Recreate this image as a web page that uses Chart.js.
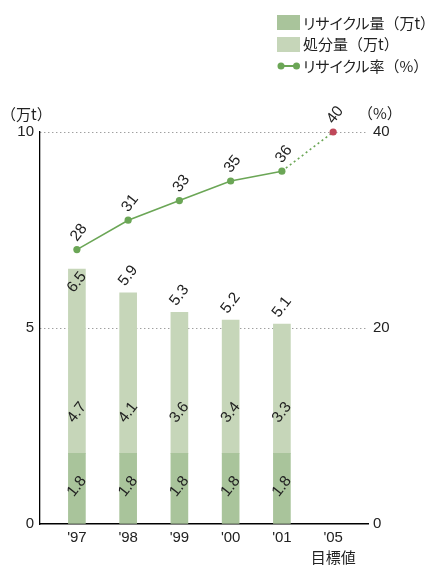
<!DOCTYPE html>
<html>
<head>
<meta charset="utf-8">
<script src="https://cdn.jsdelivr.net/npm/chart.js@4/dist/chart.umd.min.js"></script>
<style>
  html, body { margin: 0; padding: 0; background: #fff; }
  #wrap { position: relative; width: 430px; height: 565px; overflow: hidden; }
  canvas { position: absolute; left: 0; top: 0; }
  .jp { font-family: "Noto Sans CJK JP", "Liberation Sans", sans-serif; font-feature-settings: "palt"; color: #222; font-size: 15px; position: absolute; white-space: nowrap; line-height: 1; }
  .jp .np { font-feature-settings: normal; }
  .row { position: absolute; left: 277px; height: 22px; width: 160px; }
  .sw { position: absolute; left: 0; width: 23px; height: 15px; top: 3.5px; }
  .row .jp { left: 26px; top: 3px; }
  .lineicon { position: absolute; left: 0; top: 0; width: 26px; height: 22px; }
</style>
</head>
<body>
<div id="wrap">
  <canvas id="c" width="430" height="565"></canvas>
  <div class="row" style="top:11.5px"><div class="sw" style="background:#a9c49b"></div><span class="jp">リサイクル量<span class="np">（万t）</span></span></div>
  <div class="row" style="top:33px"><div class="sw" style="background:#c6d6b9"></div><span class="jp">処分量<span class="np">（万t）</span></span></div>
  <div class="row" style="top:55px">
    <svg class="lineicon" width="26" height="22"><line x1="3" y1="11" x2="20" y2="11" stroke="#6ba656" stroke-width="2"/><circle cx="4" cy="11" r="3.5" fill="#6ba656"/><circle cx="19.5" cy="11" r="3.5" fill="#6ba656"/></svg>
    <span class="jp">リサイクル率<span class="np">（%）</span></span>
  </div>
  <span class="jp" style="left:1px; top:106px;"><span class="np">（万t）</span></span>
  <span class="jp" style="left:358px; top:105px;"><span class="np">（%）</span></span>
</div>
<script>
// ---- data ----
const categories = ["'97", "'98", "'99", "'00", "'01", "'05"];
const targetNote = "目標値";
const recycleAmount = [1.8, 1.8, 1.8, 1.8, 1.8];
const disposalAmount = [4.7, 4.1, 3.6, 3.4, 3.3];
const totalAmount = [6.5, 5.9, 5.3, 5.2, 5.1];
const recycleRate = [28, 31, 33, 35, 36, 40];
const leftTicks = [0, 5, 10];
const rightTicks = [0, 20, 40];

const FONT_NUM = '"Liberation Sans", Arial, sans-serif';
const TXT = '#222';
const GREEN_LINE = '#6ba656';
const RED_PT = '#c0485a';

const toXY = arr => arr.map((v, i) => ({ x: i, y: v }));

const labelPlugin = {
  id: 'labels',
  afterDatasetsDraw(chart) {
    const ctx = chart.ctx;
    const ang = -52 * Math.PI / 180;
    const rec = chart.getDatasetMeta(1);
    const dis = chart.getDatasetMeta(2);
    const line = chart.getDatasetMeta(0);
    const draw = (txt, x, y) => {
      ctx.save();
      ctx.translate(x, y);
      ctx.rotate(ang);
      ctx.font = '15.5px ' + FONT_NUM;
      ctx.fillStyle = TXT;
      ctx.textAlign = 'center';
      ctx.textBaseline = 'middle';
      ctx.fillText(txt, 0, 0);
      ctx.restore();
    };
    rec.data.forEach((el, i) => {
      draw(recycleAmount[i].toFixed(1), el.x, (el.y + el.base) / 2 - 2);
    });
    dis.data.forEach((el, i) => {
      draw(disposalAmount[i].toFixed(1), el.x, el.base - 41);
      let ty = el.y - 17;
      const pt = line.data[i];
      if (pt && Math.abs(ty - pt.y) < 22) ty = el.y + 13;
      draw(totalAmount[i].toFixed(1), el.x, ty);
    });
    line.data.forEach((el, i) => {
      draw(String(recycleRate[i]), el.x + 2, el.y - 17);
    });
  }
};

new Chart(document.getElementById('c'), {
  type: 'bar',
  data: {
    datasets: [
      {
        type: 'line',
        label: 'リサイクル率（%）',
        data: toXY(recycleRate),
        yAxisID: 'y1',
        order: 0,
        clip: false,
        borderColor: GREEN_LINE,
        borderWidth: 1.6,
        pointRadius: 3.6,
        pointBorderWidth: 0,
        pointBackgroundColor: recycleRate.map((v, i) => i === recycleRate.length - 1 ? RED_PT : GREEN_LINE),
        tension: 0,
        segment: {
          borderDash: c => c.p1DataIndex === recycleRate.length - 1 ? [2, 3] : undefined
        }
      },
      {
        label: 'リサイクル量（万t）',
        data: toXY(recycleAmount),
        yAxisID: 'y',
        order: 1,
        backgroundColor: '#a9c49b',
        barThickness: 17,
        stack: 's'
      },
      {
        label: '処分量（万t）',
        data: toXY(disposalAmount),
        yAxisID: 'y',
        order: 1,
        backgroundColor: '#c6d6b9',
        barThickness: 17,
        stack: 's'
      }
    ]
  },
  options: {
    responsive: false,
    animation: false,
    devicePixelRatio: 1,
    layout: { padding: { top: 132, left: 0, right: 0, bottom: 0 } },
    plugins: { legend: { display: false }, tooltip: { enabled: false } },
    scales: {
      x: {
        type: 'linear',
        offset: false,
        min: -0.72,
        max: 5.68,
        stacked: true,
        grid: { display: false, drawTicks: false },
        border: { display: true, color: '#000', width: 1.5 },
        afterBuildTicks: s => { s.ticks = categories.map((_, i) => ({ value: i })); },
        afterFit: s => { s.height = 41; },
        ticks: {
          autoSkip: false,
          maxRotation: 0,
          padding: 4,
          color: TXT,
          font: { size: 15, family: '"Liberation Sans", "Noto Sans CJK JP", sans-serif', lineHeight: 1.35 },
          callback: v => {
            const i = Math.round(v);
            return i === categories.length - 1 ? [categories[i], targetNote] : categories[i];
          }
        }
      },
      y: {
        position: 'left',
        min: 0,
        max: 10,
        stacked: true,
        afterBuildTicks: s => { s.ticks = leftTicks.map(v => ({ value: v })); },
        afterFit: s => { s.width = 40; },
        grid: {
          drawTicks: false,
          color: c => c.tick && c.tick.value === 0 ? 'rgba(0,0,0,0)' : '#777',
          lineWidth: 1
        },
        border: { display: true, color: '#000', width: 1.3, dash: [1, 3] },
        ticks: { padding: 6, color: TXT, font: { size: 15, family: FONT_NUM } }
      },
      y1: {
        position: 'right',
        min: 0,
        max: 40,
        afterBuildTicks: s => { s.ticks = rightTicks.map(v => ({ value: v })); },
        afterFit: s => { s.width = 62; },
        grid: { display: false, drawTicks: false },
        border: { display: false },
        ticks: { padding: 5, color: TXT, font: { size: 15, family: FONT_NUM } }
      }
    }
  },
  plugins: [labelPlugin]
});
</script>
</body>
</html>
